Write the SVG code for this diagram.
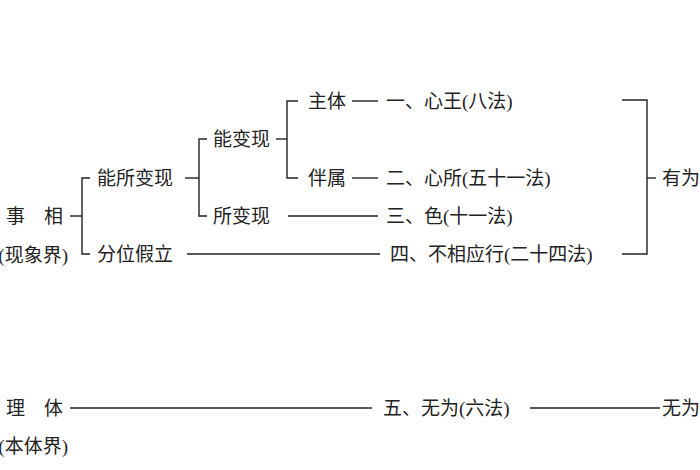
<svg xmlns="http://www.w3.org/2000/svg" width="700" height="470" viewBox="0 0 700 470">
<style>
text{font-family:"Liberation Serif","Noto Sans CJK SC",serif;font-size:19px;fill:#222;dominant-baseline:central}
.e{text-anchor:end}
line,path{stroke:#222;stroke-width:1.4;fill:none}
</style>
<rect width="700" height="470" fill="#fff"/>
<g id="connectors">
<line x1="70" y1="216" x2="82" y2="216"/>
<path d="M90 178H82V254H90"/>
<line x1="185" y1="178" x2="199" y2="178"/>
<path d="M207 139H199V216H207"/>
<line x1="276" y1="139" x2="287" y2="139"/>
<path d="M298 101H287V178H298"/>
<line x1="352" y1="101" x2="378" y2="101"/>
<line x1="352" y1="178" x2="378" y2="178"/>
<line x1="288" y1="216" x2="378" y2="216"/>
<line x1="187" y1="254" x2="380" y2="254"/>
<path d="M622 100H647V254H622"/>
<line x1="647" y1="178" x2="656" y2="178"/>
<line x1="70" y1="408" x2="372" y2="408"/>
<line x1="530" y1="408" x2="660" y2="408"/>
</g>
<g id="n-shixiang"><text class="e" x="63" y="216">事　相</text><text class="e" x="68" y="255">(现象界)</text></g>
<g id="n-nengsuo"><text x="97" y="178">能所变现</text></g>
<g id="n-fenwei"><text x="97" y="254">分位假立</text></g>
<g id="n-nengbian"><text x="213" y="139">能变现</text></g>
<g id="n-suobian"><text x="213" y="216">所变现</text></g>
<g id="n-zhuti"><text x="308" y="101">主体</text></g>
<g id="n-banshu"><text x="308" y="178">伴属</text></g>
<g id="n-1"><text x="386" y="101">一、心王(八法)</text></g>
<g id="n-2"><text x="386" y="178">二、心所(五十一法)</text></g>
<g id="n-3"><text x="386" y="216">三、色(十一法)</text></g>
<g id="n-4"><text x="390" y="254">四、不相应行(二十四法)</text></g>
<g id="n-youwei"><text x="662" y="178" font-size="18">有为</text></g>
<g id="n-liti"><text class="e" x="63" y="408">理　体</text><text class="e" x="68" y="446">(本体界)</text></g>
<g id="n-5"><text x="383" y="408">五、无为(六法)</text></g>
<g id="n-wuwei"><text x="662" y="408" font-size="18">无为</text></g>
</svg>
